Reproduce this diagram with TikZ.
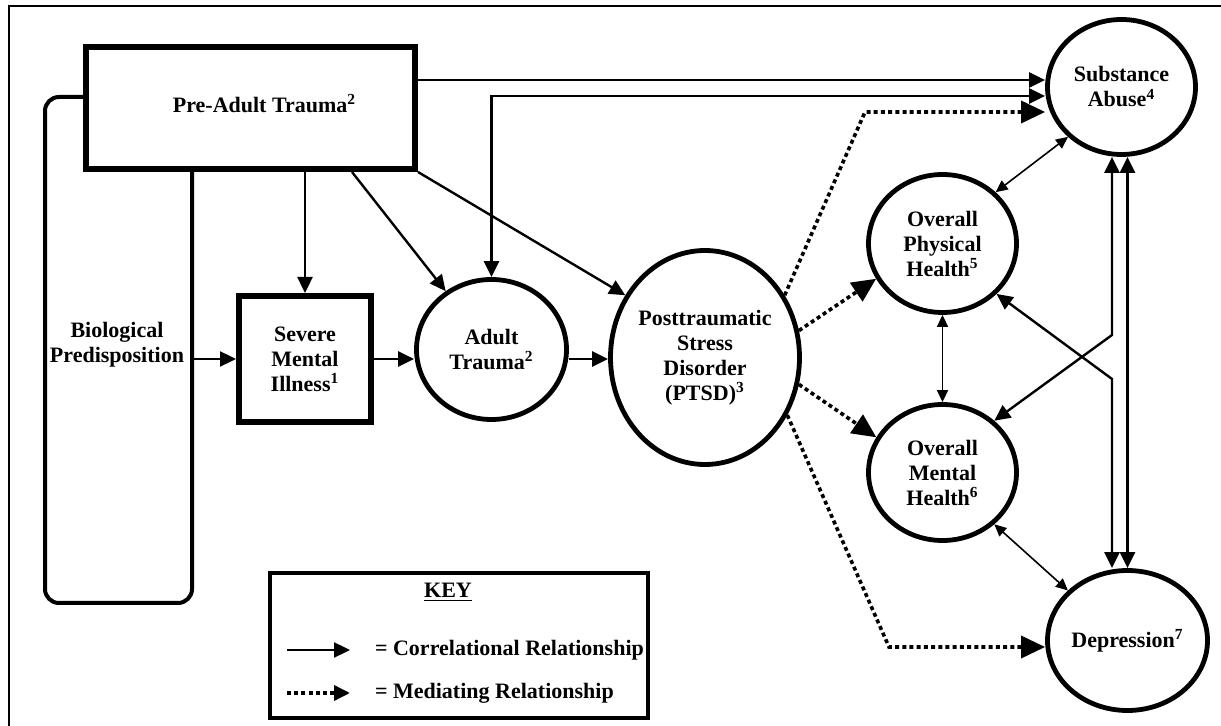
\documentclass[tikz,border=0pt]{standalone}
\usepackage{fontspec}
\setmainfont{Liberation Serif}
\usetikzlibrary{arrows.meta,shapes.geometric,positioning}

\begin{document}
\begin{tikzpicture}[x=0.5pt,y=-0.5pt,
	txt/.style = {font=\fontsize{11}{12.5}\selectfont\bfseries, align=center},
	bigbox/.style = {txt, draw, rectangle, line width=3pt, inner sep=0pt},
	oval/.style = {txt, draw, ellipse, line width=2.4pt, inner sep=0pt},
	corr/.style = {line width=1.2pt, -{Triangle[length=8pt,width=7.5pt]}},
	corrboth/.style = {line width=1.2pt,
		{Triangle[length=8pt,width=7.5pt]}-{Triangle[length=8pt,width=7.5pt]}},
	assoc/.style = {line width=0.8pt,
		{Triangle[length=6pt,width=5.5pt]}-{Triangle[length=6pt,width=5.5pt]}},
	medi/.style = {line width=1.8pt, dash pattern=on 2pt off 1.6pt,
		-{Triangle[length=12pt,width=11pt]}}
	]
\useasboundingbox (0,0) rectangle (1221,726);
\draw[line width=0.8pt] (9,726) -- (9,6) -- (1221,6);

% boxes and circles
\node[bigbox, minimum width=164.5pt, minimum height=61pt,
	label={[txt, xshift=7pt, yshift=2pt]center:Pre-Adult Trauma\textsuperscript{2}}] (pre) at (250.5,108) {};
\node[txt] (bio) at (117,344.5) {Biological\\Predisposition};
\node[bigbox, minimum width=66pt, minimum height=63pt] (smi) at (305,359) {Severe\\Mental\\Illness\textsuperscript{1}};
\node[oval, minimum width=75pt, minimum height=70pt] (at) at (491.5,349.5) {Adult\\Trauma\textsuperscript{2}};
\node[oval, minimum width=94.5pt, minimum height=107pt] (ptsd) at (705,357.5) {Posttraumatic\\Stress\\Disorder\\(PTSD)\textsuperscript{3}};
\node[oval, minimum width=74pt, minimum height=67.5pt] (sa) at (1121.5,87) {Substance\\Abuse\textsuperscript{4}};
\node[oval, minimum width=74pt, minimum height=69pt] (ph) at (942.5,243.5) {Overall\\Physical\\Health\textsuperscript{5}};
\node[oval, minimum width=74pt, minimum height=68pt] (mh) at (942.5,472.5) {Overall\\Mental\\Health\textsuperscript{6}};
\node[oval, minimum width=80pt, minimum height=70pt] (dep) at (1127.5,640.5) {Depression\textsuperscript{7}};

% bracket round the predisposition
\coordinate (c1) at (45,603);
\coordinate (c2) at (192,603);
\draw[line width=2pt, rounded corners=7pt] ([yshift=5.5pt]pre.west) -| (c1) -- (c2) -- (c2 |- pre.south);

% correlational
\draw[corr] ([yshift=14pt]pre.east) coordinate (p1) -- (p1 -| sa.west);
\coordinate (p2) at ([yshift=-8pt]p1);
\draw[corrboth] (at.north) |- (p2 -| sa.west);
\draw[corr] (smi.north |- pre.south) -- (smi.north);
\draw[corr] ([xshift=50.75pt]pre.south) -- (at);
\draw[corr] (pre.south east) -- (ptsd.142);
\draw[corr] (bio.east |- smi.west) -- (smi.west);
\draw[corr] (smi.east) -- (smi.east -| at.west);
\draw[corr] (at.east |- smi.east) -- (ptsd.west |- smi.east);

% mediating
\coordinate (m1) at (865,112);
\coordinate (m2) at (889,647);
\draw[medi] (ptsd.38) -- (m1) -- (m1 -| sa.west);
\draw[medi] (ptsd.16) -- (ph.208);
\draw[medi] (ptsd.344) -- (mh.152);
\draw[medi] (ptsd.325) -- (m2) -- (m2 -| dep.west);

% outcomes
\coordinate (b1) at (1112,335);
\coordinate (b2) at (1112,379);
\draw[assoc] (ph.44) -- (sa.223);
\draw[assoc] (ph.south) -- (mh.north);
\draw[assoc] (mh.315) -- (dep.140);
\draw[corrboth] (mh.45) -- (b1) -- (b1 |- sa.south);
\draw[corrboth] (ph.317) -- (b2) -- (b2 |- dep.north);
\draw[corrboth] (dep.north |- sa.south) -- (dep.north);

% key
\node[bigbox, line width=2pt, minimum width=189pt, minimum height=72.5pt] (key) at (459,645.5) {};
\node[txt] (keyhead) at (448,592) {\underline{KEY}};
\node[txt, anchor=west] (kc) at (368,650) {= Correlational Relationship};
\node[txt, anchor=west] (km) at (368,693) {= Mediating Relationship};
\draw[corr] ([xshift=-40.5pt]kc.west) -- ([xshift=-9pt]kc.west);
\draw[medi, -{Triangle[length=8pt,width=7.5pt]}] ([xshift=-40.5pt]km.west) -- ([xshift=-9pt]km.west);
\end{tikzpicture}
\end{document}
